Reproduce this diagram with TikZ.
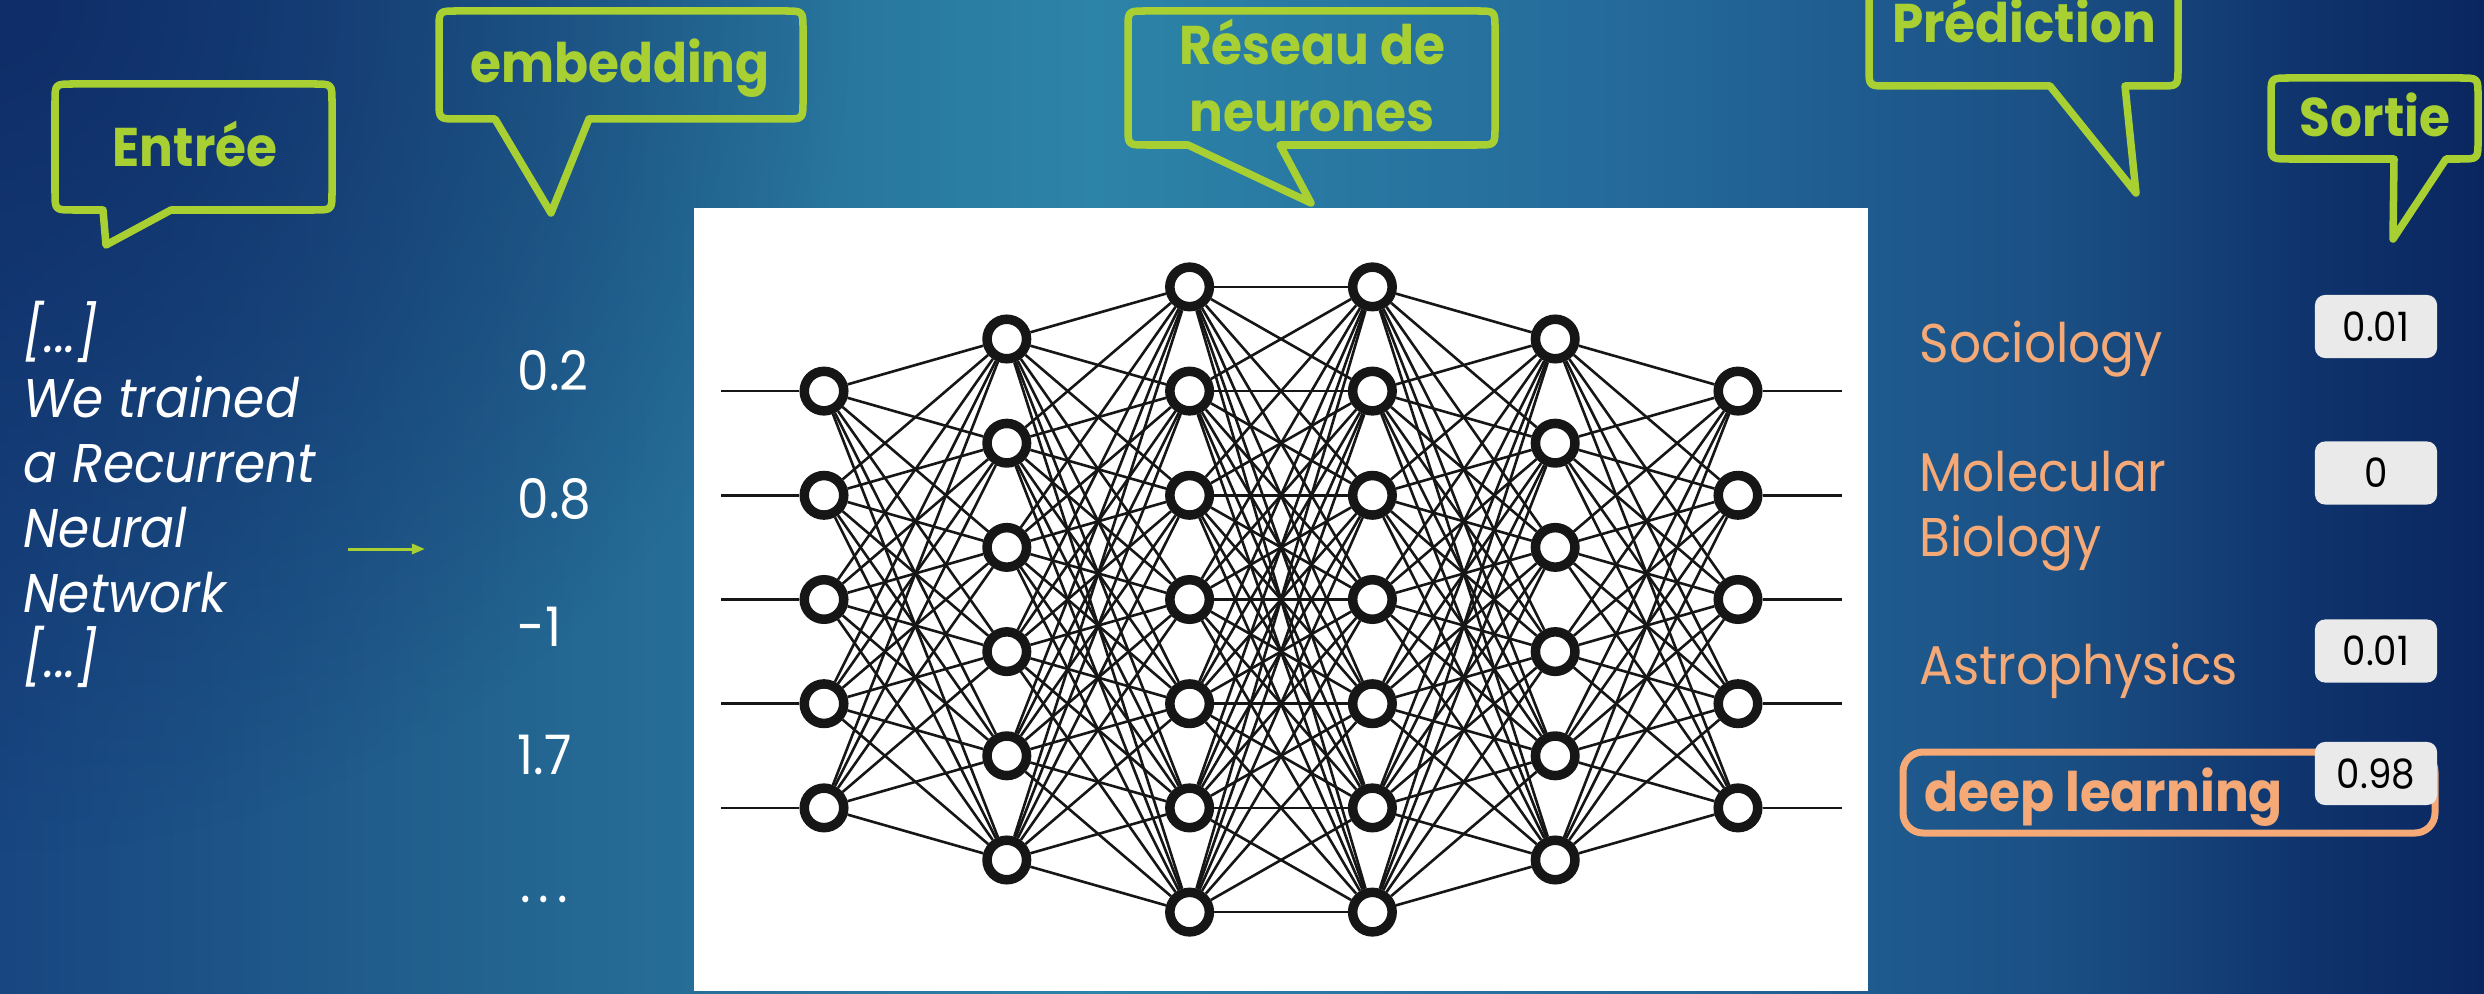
\documentclass[tikz,border=0pt]{standalone}
\usepackage{fontspec}
\setmainfont{Poppins}[FakeStretch=0.92]
\usetikzlibrary{arrows.meta,fadings}

% palette
\definecolor{bgA}{HTML}{184680}
\definecolor{bgB}{HTML}{22628F}
\definecolor{bgC}{HTML}{2C84A8}
\definecolor{bgD}{HTML}{24699A}
\definecolor{bgE}{HTML}{1A4F84}
\definecolor{bgF}{HTML}{0F336C}
\definecolor{bgG}{HTML}{0A2660}
\definecolor{bgcorner}{HTML}{0F2D68}
\definecolor{bubblegreen}{HTML}{A8D032}
\definecolor{topicorange}{HTML}{F4A977}
\definecolor{boxgray}{HTML}{EAEAEA}
\definecolor{netink}{HTML}{161616}

% horizontal sweep of the slide background (the shaded path spans 25bp..75bp)
\pgfdeclarehorizontalshading{slidebg}{100bp}{%
  color(0bp)=(bgA); color(25bp)=(bgA); color(34.5bp)=(bgB);
  color(47bp)=(bgC); color(58bp)=(bgD); color(66.5bp)=(bgE);
  color(71.5bp)=(bgF); color(75bp)=(bgG); color(100bp)=(bgG)}
\tikzfading[name=cornerfade, inner color=transparent!0,
  outer color=transparent!100]

\pgfdeclarelayer{back}
\pgfdeclarelayer{edges}
\pgfsetlayers{back,edges,main}

% speech bubble: #1 left, #2 top, #3 right, #4 bottom,
% #5 tail base left, #6/#7 tail tip, #8 tail base right
\newcommand{\talkbubble}[8]{%
  \draw[bubble] ({#5},#4) -- ({#1+18},#4) .. controls (#1,#4) .. (#1,{#4-18})
    -- (#1,{#2+18}) .. controls (#1,#2) .. ({#1+18},#2)
    -- ({#3-18},#2) .. controls (#3,#2) .. (#3,{#2+18})
    -- (#3,{#4-18}) .. controls (#3,#4) .. ({#3-18},#4)
    -- ({#8},#4) -- (#6,#7) -- cycle;}

\begin{document}
\begin{tikzpicture}[x=0.01cm, y=-0.01cm,
  neuron/.style={circle, draw=netink, fill=white, line width=0.095cm,
    minimum size=0.395cm, inner sep=0pt},
  synapse/.style={draw=netink, line width=0.026cm},
  bubble/.style={draw=bubblegreen, line width=0.075cm, line join=round},
  bubbletext/.style={text=bubblegreen, inner sep=0pt, anchor=base,
    font=\bfseries\fontsize{15.5}{18}\selectfont},
  inputtext/.style={text=white, inner sep=0pt, anchor=base west,
    font=\itshape\fontsize{15.5}{18}\selectfont},
  embnum/.style={text=white, inner sep=0pt, anchor=base west,
    font=\fontsize{15.5}{18}\selectfont},
  topic/.style={text=topicorange, inner sep=0pt, anchor=base west,
    font=\fontsize{15.5}{18}\selectfont},
  valbox/.style={fill=boxgray, rounded corners=0.1cm, inner sep=0pt,
    minimum width=1.22cm, minimum height=0.63cm, text=black,
    font=\fontsize{11.5}{14}\selectfont},
  hlbox/.style={draw=topicorange, line width=0.07cm, rounded corners=0.2cm},
  greenarrow/.style={draw=bubblegreen, line width=0.03cm,
    -{Triangle[length=0.13cm,width=0.1cm]}}]

\useasboundingbox (0,0) rectangle (2484,994);

% slide background and the white panel of the network
\begin{pgfonlayer}{back}
  \clip (0,0) rectangle (2484,994);
  \shade[shading=slidebg] (0,0) rectangle (2484,994);
  \fill[bgcorner, path fading=cornerfade] (-850,-850) rectangle (850,850);
  \fill[white] (694,208) rectangle (1868,991);
\end{pgfonlayer}

% speech bubbles
\talkbubble{55}{84}{332}{210}{103}{106}{245}{171}
\talkbubble{439}{11}{803}{119}{495}{551}{213}{589}
\talkbubble{1128}{11}{1495}{145}{1188}{1311}{203}{1280}
\talkbubble{1869}{-40}{2178}{86}{2050}{2136}{193}{2125}
\talkbubble{2271}{78}{2478}{159}{2394}{2393}{239}{2446}

\node[bubbletext] (lblin)  at (195,167)  {Entrée};
\node[bubbletext] (lblemb) at (620,83)   {embedding};
\node[bubbletext] (lblnet1) at (1312,65) {Réseau de};
\node[bubbletext] (lblnet2) at (1312,132) {neurones};
\node[bubbletext] (lblpred) at (2024,43) {Prédiction};
\node[bubbletext] (lblout) at (2375,137) {Sortie};

% input sentence
\node[inputtext] (t1) at (23,352) {[...]};
\node[inputtext] (t2) at (23,417) {We trained};
\node[inputtext] (t3) at (23,482) {a Recurrent};
\node[inputtext] (t4) at (23,547) {Neural};
\node[inputtext] (t5) at (23,612) {Network};
\node[inputtext] (t6) at (23,677) {[...]};

\coordinate (arrS) at (348,549);
\coordinate (arrE) at (425,549);
\draw[greenarrow] (arrS) -- (arrE);

% embedding vector
\node[embnum] (e1) at (517,390) {0.2};
\node[embnum] (e2) at (517,518) {0.8};
\node[embnum] (e3) at (517,646) {-1};
\node[embnum] (e4) at (517,774) {1.7};
\node[embnum] (e5) at (520,902) {.\kern0.14em.\kern0.14em.};

% neural network: layers of 5, 6, 7, 7, 6, 5 neurons
\foreach \n [count=\i] in {5,6,7,7,6,5} {
  \foreach \j in {1,...,\n} {
    \node[neuron] (n\i-\j) at ({824+182.8*(\i-1)}, {599.5+(\j-(\n+1)/2)*104.2}) {};
  }
}
\begin{pgfonlayer}{edges}
  \foreach \a/\na/\b/\nb in {1/5/2/6, 2/6/3/7, 3/7/4/7, 4/7/5/6, 5/6/6/5} {
    \foreach \p in {1,...,\na} {
      \foreach \q in {1,...,\nb} {
        \draw[synapse] (n\a-\p) -- (n\b-\q);
      }
    }
  }
  \foreach \j in {1,...,5} {
    \coordinate (in\j) at (721, {599.5+(\j-3)*104.2});
    \coordinate (out\j) at (1842, {599.5+(\j-3)*104.2});
    \draw[synapse] (in\j) -- (n1-\j);
    \draw[synapse] (n6-\j) -- (out\j);
  }
\end{pgfonlayer}

% predicted topics and their scores
\node[topic] (c1) at (1919,363) {Sociology};
\node[topic] (c2a) at (1919,491) {Molecular};
\node[topic] (c2b) at (1919,556) {Biology};
\node[topic] (c3) at (1919,684) {Astrophysics};
\draw[hlbox] (1903,752) rectangle (2435,833);
\node[topic, font=\bfseries\fontsize{15.5}{18}\selectfont] (c4) at (1924,811) {deep learning};

\node[valbox] (v1) at (2376,326.5) {0.01};
\node[valbox] (v2) at (2376,473) {0};
\node[valbox] (v3) at (2376,651) {0.01};
\node[valbox] (v4) at (2376,773.5) {0.98};

\end{tikzpicture}
\end{document}
